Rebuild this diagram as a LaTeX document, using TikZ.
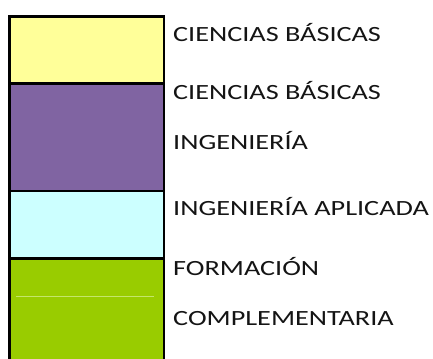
\documentclass[tikz,border=0pt]{standalone}
\usepackage{fontspec}
\setmainfont{Carlito}
\newfontfamily\lblfont[FakeStretch=1.3]{Carlito}
\definecolor{cyel}{HTML}{FFFF99}
\definecolor{cpur}{HTML}{8064A2}
\definecolor{ccya}{HTML}{CCFFFF}
\definecolor{cgrn}{HTML}{99CC00}
\definecolor{cgrnl}{HTML}{C4E66A}
\begin{document}
\begin{tikzpicture}[x=1bp,y=-1bp,
  band/.style={draw=black,line width=2.5bp,rectangle,anchor=north west,inner sep=0pt,minimum width=154.5bp},
  lbl/.style={anchor=base west,inner sep=0pt,font=\lblfont\fontsize{21.7bp}{24bp}\selectfont,text=black!92}]
\useasboundingbox (0,0) rectangle (433,358);
\begin{scope}
\clip (0,0) rectangle (433,358);
\node[band,fill=cyel,minimum height=67bp] (b1) at (8,15) {};
\node[band,fill=cpur,minimum height=107.5bp] (b2) at (8,82) {};
\node[band,fill=ccya,minimum height=67.5bp] (b3) at (8,189.5) {};
\node[band,fill=cgrn,minimum height=110bp] (b4) at (8,257) {};
\draw[cgrnl,line width=0.7bp] (16,296.7) coordinate (g1) -- (154,296.7) coordinate (g2);
\end{scope}
\node[lbl] (t1) at (173,41) {CIENCIAS BÁSICAS};
\node[lbl] (t2) at (173,99.3) {CIENCIAS BÁSICAS};
\node[lbl] (t3) at (173,149) {INGENIERÍA};
\node[lbl] (t4) at (173,215) {INGENIERÍA APLICADA};
\node[lbl] (t5) at (173,275) {FORMACIÓN};
\node[lbl] (t6) at (173,325) {COMPLEMENTARIA};
\end{tikzpicture}
\end{document}
